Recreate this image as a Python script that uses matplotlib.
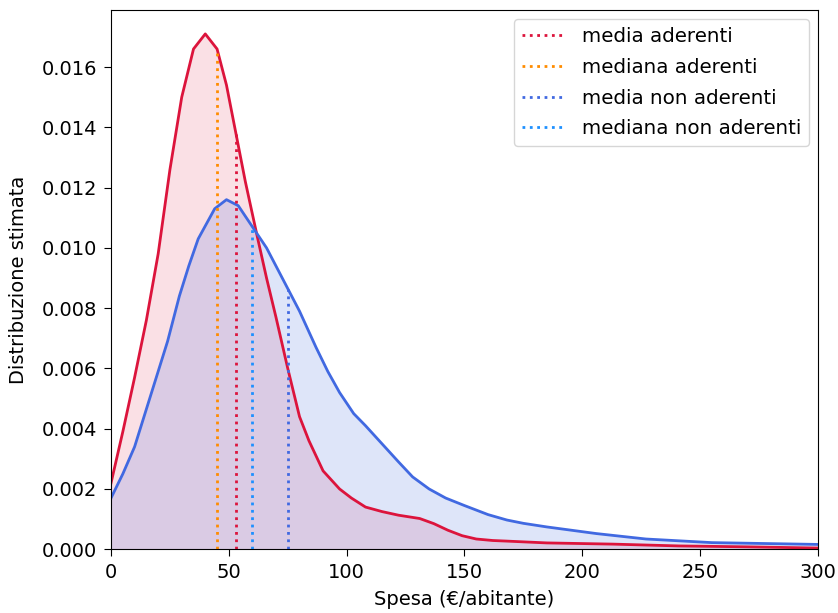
import numpy as np
import matplotlib
matplotlib.use("Agg")
import matplotlib.pyplot as plt

# Estimated density curves
x_aderenti = [0, 5, 10, 15, 20, 25, 30, 35, 40, 45, 49, 53, 57, 62, 66, 70, 75, 80, 84, 90,
              97, 102, 108, 115, 122, 131, 137, 143, 149, 155, 162, 168, 185, 213, 241, 270, 300]
dens_aderenti = [0.0022, 0.0039, 0.0057, 0.0076, 0.0098, 0.0126, 0.0150, 0.0166, 0.0171, 0.0166,
                 0.0154, 0.0138, 0.0122, 0.0104, 0.0090, 0.0077, 0.0060, 0.0044, 0.0036, 0.0026,
                 0.0020, 0.0017, 0.0014, 0.00125, 0.00113, 0.00102, 0.00085, 0.00063, 0.00045,
                 0.00034, 0.00029, 0.00027, 0.00021, 0.00017, 0.00011, 0.00008, 0.00004]

x_non_aderenti = [0, 5, 10, 18, 24, 29, 33, 37, 44, 49, 54, 60, 66, 74, 80, 87, 92, 97, 103,
                  108, 115, 122, 128, 135, 142, 150, 160, 168, 175, 185, 206, 227, 255, 300]
dens_non_aderenti = [0.0017, 0.0025, 0.0034, 0.0054, 0.0069, 0.0084, 0.0094, 0.0103, 0.0113,
                     0.0116, 0.0114, 0.0107, 0.0100, 0.0088, 0.0079, 0.0067, 0.0059, 0.0052,
                     0.0045, 0.0041, 0.0035, 0.0029, 0.0024, 0.0020, 0.0017, 0.00145, 0.00115,
                     0.00097, 0.00086, 0.00074, 0.00052, 0.00034, 0.00022, 0.00016]

# summary statistics (€/abitante)
media_aderenti = 53
mediana_aderenti = 45
media_non_aderenti = 75
mediana_non_aderenti = 60

plt.rcParams["font.size"] = 14
plt.rcParams["xtick.major.size"] = 5
plt.rcParams["ytick.major.size"] = 5
plt.rcParams["xtick.major.pad"] = 5
plt.rcParams["ytick.major.pad"] = 5

fig = plt.figure(figsize=(8.38, 6.13), dpi=100)
ax = fig.add_axes([0.1325, 0.104, 0.8435, 0.88])

ax.plot(x_aderenti, dens_aderenti, color="crimson", lw=2)
ax.fill_between(x_aderenti, dens_aderenti, color="crimson", alpha=0.13, lw=0)
ax.plot(x_non_aderenti, dens_non_aderenti, color="royalblue", lw=2)
ax.fill_between(x_non_aderenti, dens_non_aderenti, color="royalblue", alpha=0.17, lw=0)

stats = [
    (media_aderenti, x_aderenti, dens_aderenti, "crimson", "media aderenti"),
    (mediana_aderenti, x_aderenti, dens_aderenti, "darkorange", "mediana aderenti"),
    (media_non_aderenti, x_non_aderenti, dens_non_aderenti, "royalblue", "media non aderenti"),
    (mediana_non_aderenti, x_non_aderenti, dens_non_aderenti, "dodgerblue", "mediana non aderenti"),
]
for val, xs, ys, col, lab in stats:
    h = np.interp(val, xs, ys)
    ax.vlines(val, 0, h, colors=col, linestyles=":", lw=2, label=lab)

ax.set_xlim(0, 300)
ax.set_ylim(0, 0.0179)
ax.set_yticks(np.arange(0, 0.0161, 0.002))
ax.set_xlabel("Spesa (€/abitante)", labelpad=6)
ax.set_ylabel("Distribuzione stimata", labelpad=10)
ax.legend(loc="upper right", fontsize=14.3, labelspacing=0.6, handlelength=2.0,
          handletextpad=1.0, borderaxespad=0.45)

fig.savefig("out.png", dpi=100)
